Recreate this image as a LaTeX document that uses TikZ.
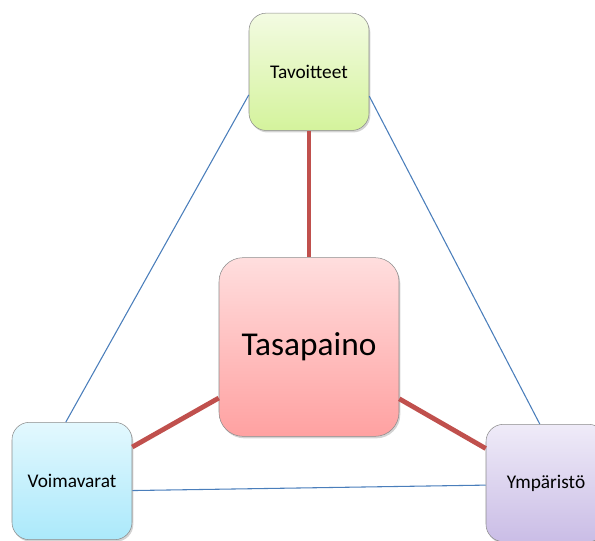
\documentclass[tikz,border=0pt]{standalone}
\usepackage{fontspec}
\setmainfont{Carlito}
\usetikzlibrary{positioning, shadows}
\definecolor{linkblue}{HTML}{4A7EBB}
\definecolor{linkred}{HTML}{C0504D}
\definecolor{greentop}{HTML}{F3FBE2}
\definecolor{greenbot}{HTML}{D4F39C}
\definecolor{redtop}{HTML}{FFDEDE}
\definecolor{redbot}{HTML}{FFA1A1}
\definecolor{bluetop}{HTML}{E3F8FE}
\definecolor{bluebot}{HTML}{ABE9FB}
\definecolor{violettop}{HTML}{EFEBF8}
\definecolor{violetbot}{HTML}{CABDE6}

\begin{document}
\begin{tikzpicture}[
      x=0.75pt, y=0.75pt,
      auto,
      box/.style={rectangle, draw=gray!90, rounded corners=13pt, text centered, minimum width=90pt, minimum height=88pt, font=\fontsize{14.5}{18}\selectfont, drop shadow={opacity=0.35, shadow xshift=1pt, shadow yshift=-1.5pt}},
      big_box/.style={box, rounded corners=18pt, minimum width=135pt, minimum height=134pt, font=\fontsize{25}{30}\selectfont},
      thin_line/.style={draw, linkblue, line width=0.8pt},
      thick_line/.style={draw, linkred, line width=3.6pt},
      green_box/.style={box, top color=greentop, bottom color=greenbot},
      red_box/.style={big_box, top color=redtop, bottom color=redbot},
      blue_box/.style={box, top color=bluetop, bottom color=bluebot},
      violet_box/.style={box, top color=violettop, bottom color=violetbot}
  ]
  \useasboundingbox (0,0) rectangle (595,-540);

  \node [red_box] (tas) at (309,-347) {Tasapaino};
  \node [green_box, above=95pt of tas] (tav) {Tavoitteet};
  \node [blue_box] (voim) at (72,-481) {Voimavarat};
  \node [violet_box] (ymp) at (546,-483) {Ympäristö};

  \path [thick_line] (tav) -- (tas);
  \path [thick_line] (tas) -- (voim);
  \path [thick_line] (tas) -- (ymp);

  \path [thin_line] (tav.201) -- (voim.96);
  \path [thin_line] (tav.338) -- (ymp.96);
  \path [thin_line] (voim.351) -- (ymp.182);

\end{tikzpicture}
\end{document}
